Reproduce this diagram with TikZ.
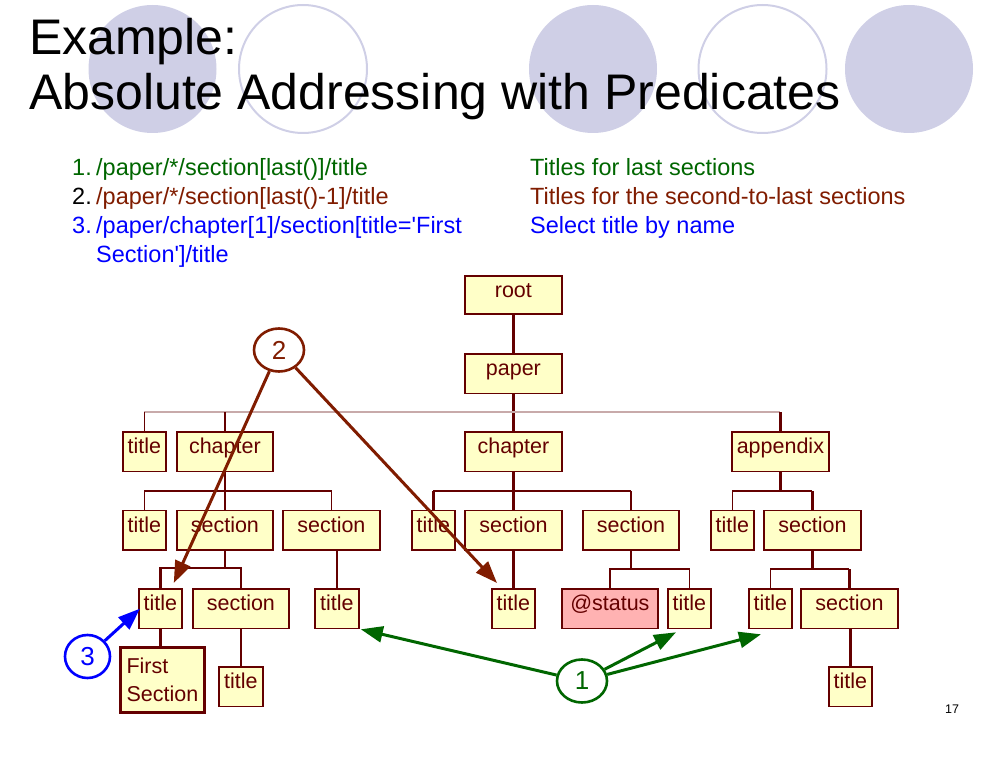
\documentclass[tikz,border=0pt]{standalone}
\usepackage{fontspec}
\newfontfamily\lsans{Liberation Sans}
\setmainfont{Liberation Sans}
\usetikzlibrary{shapes.geometric,arrows.meta}
\definecolor{lav}{RGB}{207,207,230}
\definecolor{brd}{RGB}{100,0,0}
\definecolor{yel}{RGB}{255,255,200}
\definecolor{pinkf}{RGB}{255,178,178}
\definecolor{grn}{RGB}{0,102,0}
\definecolor{dred}{RGB}{128,28,0}
\definecolor{blu}{RGB}{0,0,255}
\definecolor{busc}{RGB}{200,170,170}
\tikzset{
  tn/.style={draw=brd, fill=yel, text=brd, line width=1.8pt, inner sep=0pt, anchor=north west,
    text height=22pt, text depth=17.5pt, font=\lsans\fontsize{21.5}{24}\selectfont},
  tline/.style={draw=brd, line width=2.3pt},
  bline/.style={draw=brd, line width=1.5pt},
  topbus/.style={draw=busc, line width=1.2pt},
  circ/.style={ellipse, line width=2.6pt, minimum width=50pt, minimum height=43pt, inner sep=0pt,
    fill=white, font=\lsans\fontsize{26}{28}\selectfont},
  arr/.style={line width=3pt, -{Triangle[length=22pt,width=16pt]}},
  txt/.style={anchor=base west, inner sep=0pt, font=\lsans\fontsize{23.5}{28}\selectfont},
}
\begin{document}
\begin{tikzpicture}[x=1pt,y=-1pt]
\useasboundingbox (0,0) rectangle (994,762);
% background circles
\fill[lav] (152.5,69) circle (64);
\draw[lav, line width=2pt] (303,69) circle (64);
\fill[lav] (593,69) circle (64);
\draw[lav, line width=2pt] (762.5,69) circle (64);
\fill[lav] (909,69) circle (64);
% title
\node[anchor=base west, inner sep=0pt, font=\lsans\fontsize{50}{55}\selectfont] (h1) at (29,55) {Example:};
\node[anchor=base west, inner sep=0pt, font=\lsans\fontsize{50}{55}\selectfont] (h2) at (29,110) {Absolute Addressing with Predicates};
% list
\node[txt, text=grn] (n1) at (72,176) {1.};
\node[txt, text=grn] (p1) at (96,176) {/paper/*/section[last()]/title};
\node[txt, text=black] (n2) at (72,205) {2.};
\node[txt, text=dred] (p2) at (96,205) {/paper/*/section[last()-1]/title};
\node[txt, text=blu] (n3) at (72,234) {3.};
\node[txt, text=blu] (p3) at (96,234) {/paper/chapter[1]/section[title='First};
\node[txt, text=blu] (p3b) at (96,262.5) {Section']/title};
\node[txt, text=grn] (d1) at (530,176) {Titles for last sections};
\node[txt, text=dred] (d2) at (530,205) {Titles for the second-to-last sections};
\node[txt, text=blu] (d3) at (530,234) {Select title by name};
% tree nodes
\node[tn, minimum width=97pt, text depth=16.5pt] (root) at (464,275) {root\hspace{6pt}};
\node[tn, minimum width=97pt] (paper) at (464,353) {paper\hspace{6pt}};
% row 1
\node[tn, minimum width=43pt] (t1) at (122,431) {title};
\node[tn, minimum width=96pt] (ch1) at (176,431) {chapter\hspace{6pt}};
\node[tn, minimum width=97pt] (ch2) at (464,431) {chapter\hspace{6pt}};
\node[tn, minimum width=97pt] (app) at (731,431) {appendix\hspace{8pt}};
% row 2
\node[tn, minimum width=43pt] (t2a) at (122,509.5) {title};
\node[tn, minimum width=96pt] (s1) at (176,509.5) {section\hspace{6pt}};
\node[tn, minimum width=97pt] (s2) at (282,509.5) {section\hspace{6pt}};
\node[tn, minimum width=43pt] (t2b) at (411,509.5) {title};
\node[tn, minimum width=97pt] (s3) at (464,509.5) {section\hspace{6pt}};
\node[tn, minimum width=96pt] (s4) at (582,509.5) {section\hspace{6pt}};
\node[tn, minimum width=43pt] (t2c) at (710,509.5) {title};
\node[tn, minimum width=97pt] (s5) at (763,509.5) {section\hspace{6pt}};
% row 3
\node[tn, minimum width=43pt] (t3a) at (138,588) {title};
\node[tn, minimum width=96pt] (s6) at (192,588) {section\hspace{6pt}};
\node[tn, minimum width=44pt] (t3b) at (314,588) {title};
\node[tn, minimum width=43pt] (t3c) at (491,588) {title};
\node[tn, minimum width=96pt, fill=pinkf] (st) at (561,588) {@status\hspace{6pt}};
\node[tn, minimum width=43pt] (t3d) at (667,588) {title};
\node[tn, minimum width=43pt] (t3e) at (748,588) {title};
\node[tn, minimum width=97pt] (s7) at (800,588) {section\hspace{6pt}};
% row 4
\node[draw=brd, fill=yel, text=brd, line width=2.8pt, inner sep=0pt, anchor=north west, minimum width=84pt,
  minimum height=65pt, align=left, font=\lsans\fontsize{21.5}{28}\selectfont] (fs) at (119,646) {First\\Section};
\node[tn, minimum width=44pt] (t4a) at (218,666) {title};
\node[tn, minimum width=43pt] (t4b) at (828,666) {title};
% bus coordinates
\coordinate (b0) at (0,412);
\coordinate (b1) at (0,491);
\coordinate (b2) at (0,568);
\coordinate (b3) at (0,569);
% tree edges
\draw[tline] (root.south) -- (paper.north);
\draw[tline] (paper.south) -- (ch2.north);
\draw[topbus] (t1.north |- b0) -- (app.north |- b0);
\draw[bline] (t1.north) -- (t1.north |- b0);
\draw[tline] (ch1.north) -- (ch1.north |- b0);
\draw[tline] (app.north) -- (app.north |- b0);
% under ch1
\draw[tline] (ch1.south) -- (s1.north);
\draw[bline] (t2a.north) -- (t2a.north |- b1) -- (s2.north |- b1) -- (s2.north);
% under ch2
\draw[tline] (ch2.south) -- (s3.north);
\draw[bline] (t2b.north |- b1) -- (s4.north |- b1);
\draw[tline] (t2b.north) -- (t2b.north |- b1);
\draw[tline] (s4.north) -- (s4.north |- b1);
% under app
\draw[tline] (app.south) -- (app.south |- b1);
\draw[bline] (t2c.north) -- (t2c.north |- b1) -- (s5.north |- b1);
\draw[tline] (s5.north) -- (s5.north |- b1);
% row 3 edges
\draw[tline] (s1.south) -- (s1.south |- b2);
\draw[line width=2.8pt, draw=brd] (t3a.north) -- (t3a.north |- b2) -- (s6.north |- b2) -- (s6.north);
\draw[tline] (t3b.north) -- (t3b.north |- s2.south);
\draw[tline] (s3.south) -- (t3c.north);
\draw[tline] (s4.south) -- (s4.south |- b3);
\draw[bline] (st.north) -- (st.north |- b3) -- (t3d.north |- b3) -- (t3d.north);
\draw[tline] (s5.south) -- (s5.south |- b3);
\draw[bline] (t3e.north) -- (t3e.north |- b3) -- (s7.north |- b3);
\draw[tline] (s7.north) -- (s7.north |- b3);
% row 4 edges
\draw[tline] (t3a.south) -- (t3a.south |- fs.north);
\draw[tline] (s6.south) -- (t4a.north);
\draw[line width=2.8pt, draw=brd] (t4b.north) -- (t4b.north |- s7.south);
% callouts
\node[circ, draw=dred, text=dred] (c2) at (279,350) {2};
\node[circ, draw=grn, text=grn] (c1) at (582,681) {1};
\node[circ, draw=blu, text=blu, minimum width=45pt] (c3) at (87.5,656.5) {3};
\coordinate (a2l) at ([xshift=-9pt,yshift=5pt]t3a.north east);
\coordinate (a2r) at ([xshift=6pt,yshift=5pt]t3c.north west);
\coordinate (a1l) at ([xshift=1pt]t3b.south east);
\coordinate (a1m) at ([xshift=9pt,yshift=-3pt]t3d.south west);
\coordinate (a1r) at ([xshift=13pt,yshift=-5pt]t3e.south west);
\coordinate (a3) at ([xshift=2pt]t3a.west);
\draw[arr, draw=dred, fill=dred] (c2) -- (a2l);
\draw[arr, draw=dred, fill=dred] (c2) -- (a2r);
\draw[arr, draw=grn, fill=grn] (c1) -- (a1l);
\draw[arr, draw=grn, fill=grn] (c1) -- (a1m);
\draw[arr, draw=grn, fill=grn] (c1) -- (a1r);
\draw[arr, draw=blu, fill=blu] (c3) -- (a3);
% page number
\node[anchor=base, inner sep=0pt, font=\lsans\fontsize{12.5}{14}\selectfont] (pg) at (952,713) {17};
\end{tikzpicture}
\end{document}
